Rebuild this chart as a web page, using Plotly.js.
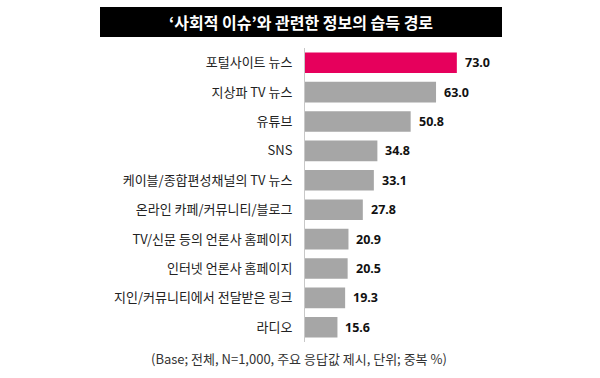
<!DOCTYPE html>
<html>
<head>
<meta charset="utf-8">
<script src="https://cdn.plot.ly/plotly-3.0.1.min.js"></script>
<style>html,body{margin:0;padding:0;background:#fff;}#chart{width:600px;height:378px;}</style>
</head>
<body>
<div id="chart"></div>
<script>
const categories = ["포털사이트 뉴스","지상파 TV 뉴스","유튜브","SNS","케이블/종합편성채널의 TV 뉴스","온라인 카페/커뮤니티/블로그","TV/신문 등의 언론사 홈페이지","인터넷 언론사 홈페이지","지인/커뮤니티에서 전달받은 링크","라디오"];
const values = [73.0, 63.0, 50.8, 34.8, 33.1, 27.8, 20.9, 20.5, 19.3, 15.6];
const valueLabels = ["73.0","63.0","50.8","34.8","33.1","27.8","20.9","20.5","19.3","15.6"];
const titleText = "‘사회적 이슈’와 관련한 정보의 습득 경로";
const noteText = "(Base; 전체, N=1,000, 주요 응답값 제시, 단위; 중복 %)";

const W = 600, H = 378;
const L = 305, R = 87, T = 48, B = 36;
const pw = W - L - R, ph = H - T - B;
const px = x => (x - L) / pw;
const py = y => (H - B - y) / ph;

const colors = values.map((v, i) => i === 0 ? "#E6005C" : "#A6A6A6");

const trace = {
  type: "bar",
  orientation: "h",
  x: values,
  y: categories,
  marker: {color: colors, line: {width: 0}},
  hoverinfo: "none"
};

const annotations = values.map((v, i) => ({
  x: v, y: categories[i], xref: "x", yref: "y",
  text: valueLabels[i], showarrow: false, xanchor: "left", xshift: 6,
  font: {family: "Noto Sans, sans-serif", size: 12.5, color: "#111", weight: "bold"}
}));
annotations.push({
  x: px(301), y: py(22), xref: "paper", yref: "paper",
  text: titleText, showarrow: false, xanchor: "center", yanchor: "middle",
  font: {family: "Noto Sans CJK KR, sans-serif", size: 16, color: "#fff", weight: "bold"}
});
annotations.push({
  x: px(299), y: py(358), xref: "paper", yref: "paper",
  text: noteText, showarrow: false, xanchor: "center", yanchor: "middle",
  font: {family: "Noto Sans CJK KR, sans-serif", size: 13, color: "#333"}
});

const layout = {
  width: W, height: H,
  margin: {l: L, r: R, t: T, b: B, pad: 0},
  paper_bgcolor: "#fff", plot_bgcolor: "#fff",
  showlegend: false,
  bargap: 0.3,
  xaxis: {range: [0, 100], visible: false, fixedrange: true},
  yaxis: {
    autorange: "reversed", showline: true, linecolor: "#c8c8c8", linewidth: 1,
    showgrid: false, zeroline: false, ticks: "", ticklabelstandoff: 9,
    tickfont: {family: "Noto Sans CJK KR, sans-serif", size: 13, color: "#222"}
  },
  shapes: [{
    type: "rect", xref: "paper", yref: "paper",
    x0: px(100), x1: px(502), y0: py(37), y1: py(7),
    fillcolor: "#000", line: {width: 0}, layer: "below"
  }],
  annotations: annotations
};

Plotly.newPlot("chart", [trace], layout, {displayModeBar: false, staticPlot: true});
</script>
</body>
</html>
